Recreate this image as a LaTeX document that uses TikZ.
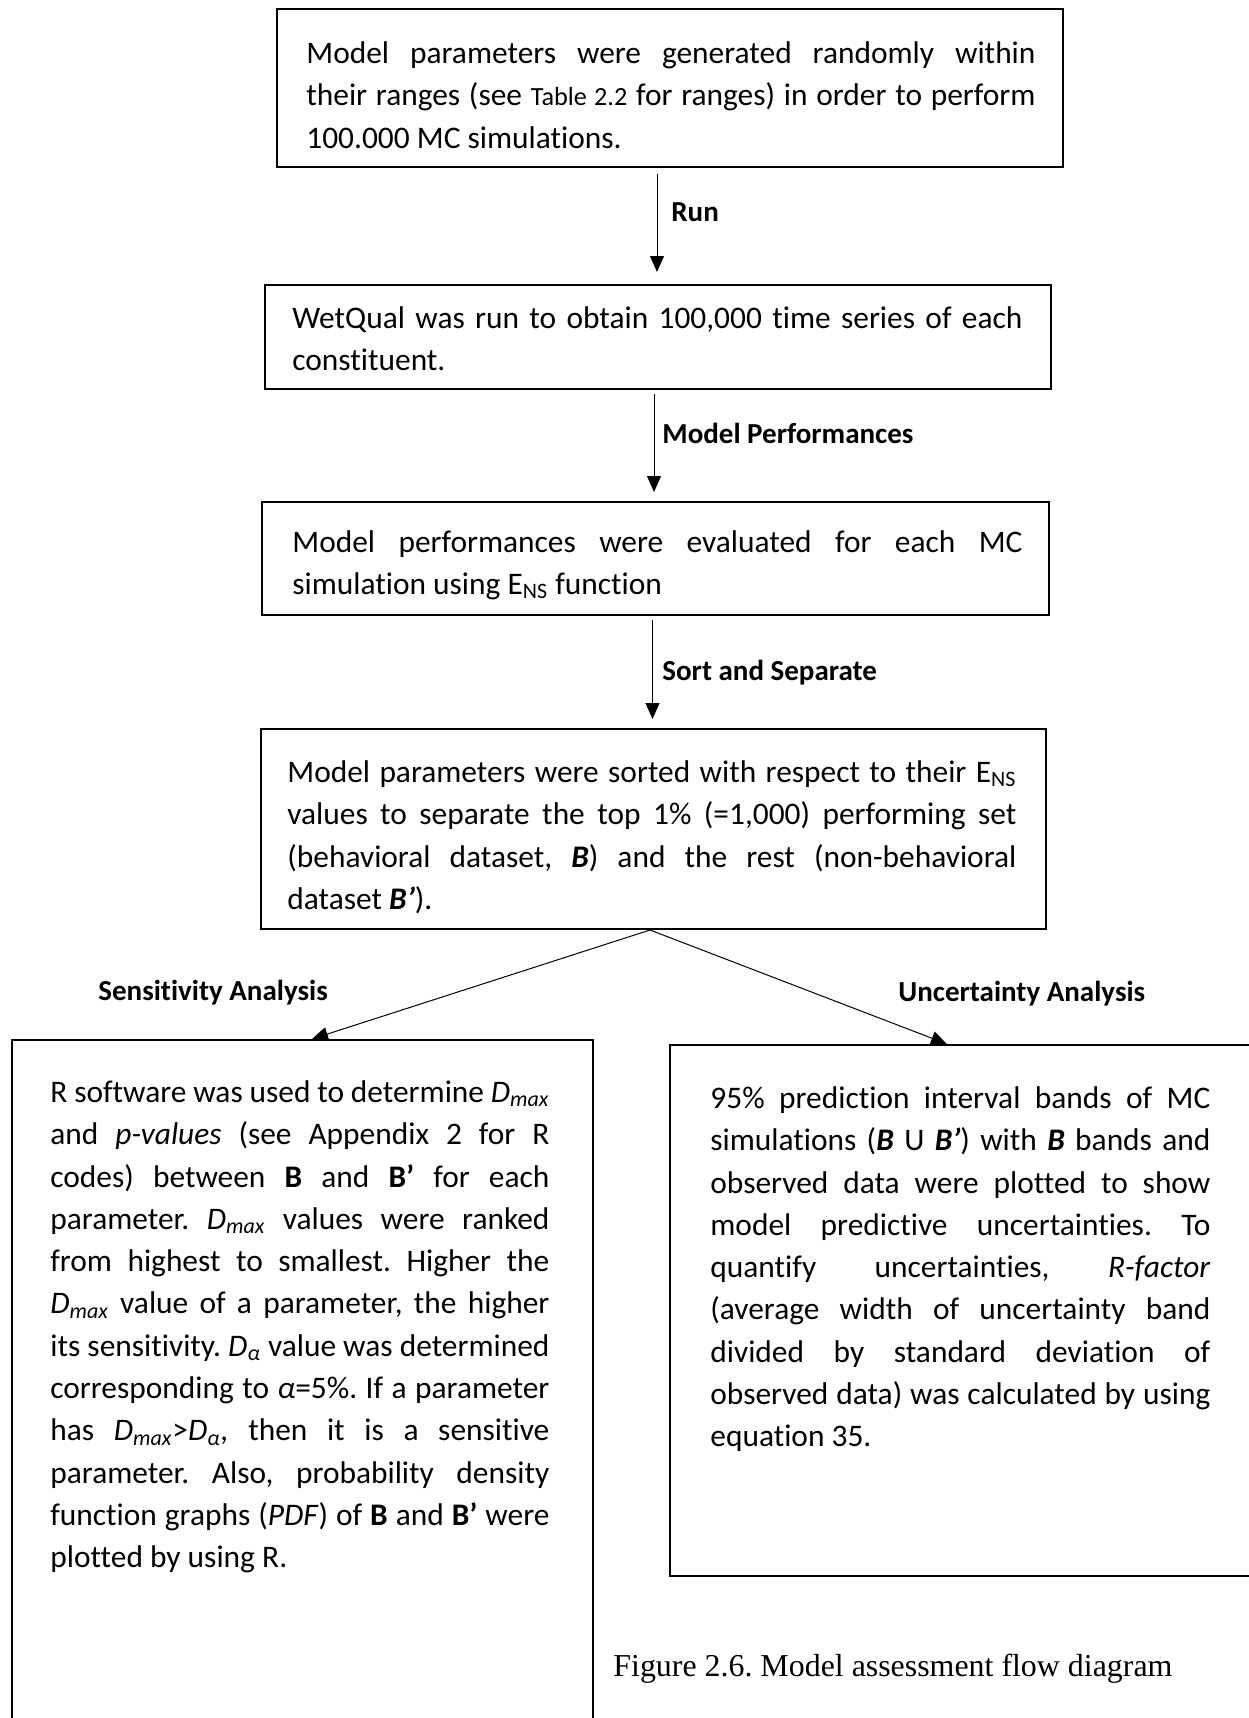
\documentclass[tikz,border=0pt]{standalone}
\usepackage{fontspec}
\setmainfont{Carlito}[Ligatures=NoCommon]
\newfontfamily\capfont{Liberation Serif}
\usetikzlibrary{arrows.meta}
\newcommand\mainsz{\fontsize{15.7}{21.15}\selectfont}
\newcommand\smsz{\fontsize{13.1}{21.15}\selectfont}
\newcommand\lblsz{\fontsize{14.5}{17}\selectfont\bfseries}
\newcommand\bi[1]{\textbf{\textit{#1}}}
\begin{document}
\frenchspacing
\hyphenpenalty=10000 \exhyphenpenalty=10000 \tolerance=10000 \hbadness=10000
\begin{tikzpicture}[x=0.5pt,y=-0.5pt,
  box/.style={draw, line width=1pt, inner sep=0pt},
  txt/.style={inner sep=0pt, anchor=north west, align=justify, font=\mainsz},
  lbl/.style={inner sep=0pt, anchor=base west, font=\lblsz},
  arr/.style={line width=0.5pt, -{Triangle[length=8pt,width=7pt]}}]
\useasboundingbox (0,0) rectangle (1248,1718);
\fill[white] (0,0) rectangle (1248,1718);

% boxes
\node[box, minimum width=393pt, minimum height=79pt] (b1) at (670,88) {};
\node[box, minimum width=393pt, minimum height=52pt] (b2) at (658,337) {};
\node[box, minimum width=393.5pt, minimum height=56.5pt] (b3) at (655.5,558.5) {};
\node[box, minimum width=392.5pt, minimum height=100pt] (b4) at (653.5,829) {};
\node[box, minimum width=290.5pt, minimum height=350pt] (b5) at (302.5,1390) {};
\node[box, minimum width=295pt, minimum height=265.5pt] (b6) at (965,1310.5) {};

% texts
\node[txt, text width=364.5pt] (t1) at (306,33.4) {\strut Model parameters were generated randomly within\linebreak their ranges (see {\smsz Table 2.2} for ranges) in order to perform\linebreak 100.000 MC simulations.};
\node[txt, text width=365pt] (t2) at (292,298.4) {\strut WetQual was run to obtain 100,000 time series of each\linebreak constituent.};
\node[txt, text width=365pt] (t3) at (292,522) {\strut Model performances were evaluated for each MC\linebreak simulation using E\textsubscript{NS} function};
\node[txt, text width=364.5pt] (t4) at (287,752.4) {\strut Model parameters were sorted with respect to their E\textsubscript{NS}\linebreak values to separate the top 1\% (=1,000) performing set\linebreak (behavioral dataset, \bi{B}) and the rest (non-behavioral\linebreak dataset \bi{B’}).};
\node[txt, text width=249.5pt] (t5) at (50,1072.4) {\strut R software was used to determine \textit{D\textsubscript{max}}\linebreak and \textit{p-values} (see Appendix 2 for R\linebreak codes) between \textbf{B} and \textbf{B’} for each\linebreak parameter. \textit{D\textsubscript{max}} values were ranked\linebreak from highest to smallest. Higher the\linebreak \textit{D\textsubscript{max}} value of a parameter, the higher\linebreak its sensitivity. \textit{D\textsubscript{α}} value was determined\linebreak corresponding to \textit{α}=5\%. If a parameter\linebreak has \textit{D\textsubscript{max}}>\textit{D\textsubscript{α},} then it is a sensitive\linebreak parameter. Also, probability density\linebreak function graphs (\textit{PDF}) of \textbf{B} and \textbf{B’} were\linebreak plotted by using R.};
\node[txt, text width=250pt] (t6) at (710,1078.4) {\strut 95\% prediction interval bands of MC\linebreak simulations (\bi{B} U \bi{B’}) with \bi{B} bands and\linebreak observed data were plotted to show\linebreak model predictive uncertainties. To\linebreak quantify uncertainties, \textit{R-factor}\linebreak (average width of uncertainty band\linebreak divided by standard deviation of\linebreak observed data) was calculated by using\linebreak equation 35.};

% labels
\node[lbl] (l1) at (671,221.7) {Run};
\node[lbl] (l2) at (662,443) {Model Performances};
\node[lbl] (l3) at (662,680.6) {Sort and Separate};
\node[lbl] (l4) at (98,1000.7) {Sensitivity Analysis};
\node[lbl] (l5) at (898,1001) {Uncertainty Analysis};
\node[inner sep=0pt, anchor=base west, font=\capfont\fontsize{15.95}{19}\selectfont] (cap) at (613,1676.7) {Figure 2.6. Model assessment flow diagram};

% connectors
\coordinate (x1) at (657,0);
\coordinate (x2) at (654,0);
\coordinate (x3) at (652.5,0);
\coordinate (xa) at (650,0);
\coordinate (xl) at (312,0);
\coordinate (xr) at (947,0);
\draw[arr, shorten <=3pt, shorten >=6pt] (b1.south -| x1) -- (b2.north -| x1);
\draw[arr, shorten <=2pt, shorten >=4.5pt] (b2.south -| x2) -- (b3.north -| x2);
\draw[arr, shorten <=2pt, shorten >=4.5pt] (b3.south -| x3) -- (b4.north -| x3);
\draw[arr] (b4.south -| xa) -- (b5.north -| xl);
\draw[arr] (b4.south -| xa) -- (b6.north -| xr);
\end{tikzpicture}
\end{document}
